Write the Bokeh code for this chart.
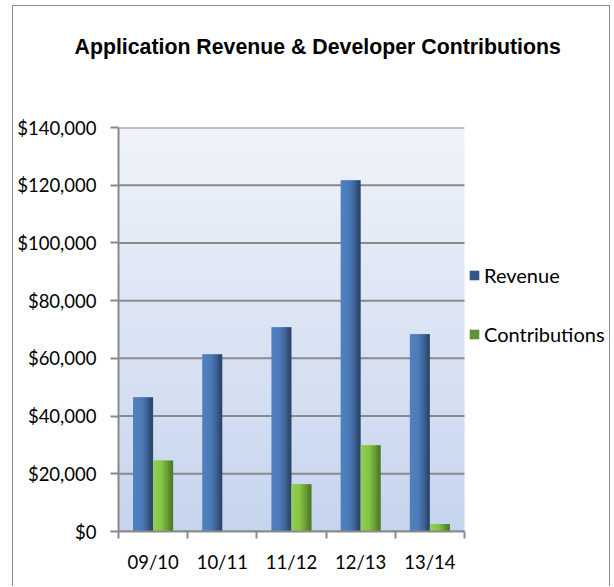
import numpy as np
from bokeh.plotting import figure
from bokeh.models import (ColumnDataSource, Range1d, LinearAxis, FixedTicker, NumeralTickFormatter,
                          Legend, LegendItem, Title)
from bokeh.transform import dodge
from bokeh.embed import file_html
from bokeh.resources import INLINE

# ---- data ----
years = ["09/10", "10/11", "11/12", "12/13", "13/14"]
revenue = [46500, 61400, 70800, 121700, 68400]
contributions = [24600, 0, 16400, 29900, 2600]
y_ticks = [0, 20000, 40000, 60000, 80000, 100000, 120000, 140000]
series_names = ["Revenue", "Contributions"]

FONT = "Lato"
FS = "18.5px"
GRID = "#8a8a8a"

ncat = len(years)
pos = list(range(1, ncat + 1))          # category centres
src = ColumnDataSource(dict(pos=pos, revenue=revenue, contributions=contributions))

W_PX, H_PX = 598, 581
MB_L, MB_R, MB_T, MB_B = 105, 1, 121, 56
CAT_SPAN_PX = 346                       # pixel width of the category area
frame_w = W_PX - MB_L - MB_R
x_end = 0.5 + ncat * frame_w / CAT_SPAN_PX

p = figure(x_range=Range1d(0.5, x_end), y_range=Range1d(0, 140000),
           width=W_PX, height=H_PX, output_backend="svg", toolbar_location=None,
           x_axis_type=None, min_border_left=MB_L, min_border_right=MB_R,
           min_border_top=MB_T, min_border_bottom=MB_B, margin=(5, 0, 0, 12),
           styles={"border-left": "1px solid #8c8c8c", "border-right": "1px solid #8c8c8c",
                   "border-top": "1px solid #8c8c8c"})
p.outline_line_color = None
p.background_fill_color = "white"
p.border_fill_color = "white"
p.xgrid.grid_line_color = None
p.ygrid.grid_line_color = None

# plot-area gradient over the category area
n = 256
t = np.linspace(0, 1, n)[:, None]  # 0 bottom -> 1 top
top = np.array([240, 243, 250]); bot = np.array([198, 213, 238])
cols = (bot + (top - bot) * t).astype(np.uint32)
img = (255 << 24) | (cols[:, 2] << 16) | (cols[:, 1] << 8) | cols[:, 0]
img = img.reshape(n, 1)
p.image_rgba(image=[img], x=0.5, y=0, dw=ncat, dh=140000, level="image")

# horizontal gridlines over the category area
p.segment(x0=0.5, x1=ncat + 0.5, y0=y_ticks, y1=y_ticks, line_color=GRID, line_width=2)

# y axis
ya = p.yaxis[0]
ya.ticker = FixedTicker(ticks=y_ticks)
ya.formatter = NumeralTickFormatter(format="$0,0")
ya.axis_line_color = GRID
ya.axis_line_width = 2
ya.major_tick_line_color = GRID
ya.major_tick_line_width = 2
ya.major_tick_out = 8
ya.major_tick_in = 0
ya.minor_tick_line_color = None
ya.major_label_standoff = 14
ya.major_label_text_font = FONT
ya.major_label_text_font_size = FS
ya.major_label_text_color = "black"

# x axis: line + ticks between categories
bounds = [c - 0.5 for c in pos] + [pos[-1] + 0.5]
xb = LinearAxis(ticker=FixedTicker(ticks=bounds), bounds=(bounds[0], bounds[-1]),
                major_label_overrides={b: "" for b in bounds})
xb.axis_line_color = GRID
xb.axis_line_width = 2
xb.major_tick_line_color = GRID
xb.major_tick_line_width = 2
xb.major_tick_out = 7
xb.major_tick_in = 0
xb.minor_tick_line_color = None
xb.major_label_text_font_size = "1px"
xb.major_label_standoff = 0
p.add_layout(xb, "below")

# x axis: category labels at centres
xc = LinearAxis(ticker=FixedTicker(ticks=pos),
                major_label_overrides={c: y for c, y in zip(pos, years)})
xc.axis_line_color = None
xc.major_tick_line_color = None
xc.minor_tick_line_color = None
xc.major_label_standoff = 6
xc.major_label_text_font = FONT
xc.major_label_text_font_size = FS
xc.major_label_text_color = "black"
p.add_layout(xc, "below")

# bars with horizontal shading
W = 0.29
NS = 10
def shade(stops, f):
    xs = [s[0] for s in stops]
    return "#%02x%02x%02x" % tuple(int(round(np.interp(f, xs, [s[1][k] for s in stops]))) for k in range(3))

rev_stops = [(0.0, (80, 129, 192)), (0.45, (76, 123, 184)), (0.7, (64, 103, 155)), (1.0, (42, 66, 99))]
con_stops = [(0.0, (148, 210, 82)), (0.45, (134, 196, 70)), (0.7, (110, 164, 56)), (1.0, (76, 118, 38))]

sw = W / NS
for field, base, stops in [("revenue", -W / 2, rev_stops), ("contributions", W / 2, con_stops)]:
    for i in range(NS):
        f = (i + 0.5) / NS
        ext = 0.012 if i > 0 else 0.0
        left = base - W / 2 + i * sw - ext
        right = base - W / 2 + (i + 1) * sw
        p.vbar(x=dodge("pos", (left + right) / 2), top=field,
               width=right - left, source=src, fill_color=shade(stops, f), line_color=None)

# legend (zero-width proxies carry the swatch colours)
r_rev = p.vbar(x="pos", top="revenue", width=0, source=src, fill_color="#34578a", line_color=None)
r_con = p.vbar(x="pos", top="contributions", width=0, source=src, fill_color="#5e9234", line_color=None)
legend = Legend(items=[LegendItem(label=series_names[0], renderers=[r_rev]),
                       LegendItem(label=series_names[1], renderers=[r_con])],
                location=(350, 185), orientation="vertical",
                glyph_width=12, glyph_height=12, label_standoff=4,
                label_height=20, spacing=35, padding=0, margin=0,
                border_line_color=None, background_fill_alpha=0,
                label_text_font=FONT, label_text_font_size="20px", label_text_color="black")
p.add_layout(legend, "center")

# title (outermost) with a blank spacer between it and the plot area
p.add_layout(Title(text=" ", text_font_size="1px", standoff=39), "above")
p.title = Title(text="Application Revenue & Developer Contributions", align="left",
                offset=-44, standoff=53, text_font="Liberation Sans", text_font_size="21.3px",
                text_font_style="bold", text_color="black")

open("out.html", "w").write(file_html(p, INLINE))
